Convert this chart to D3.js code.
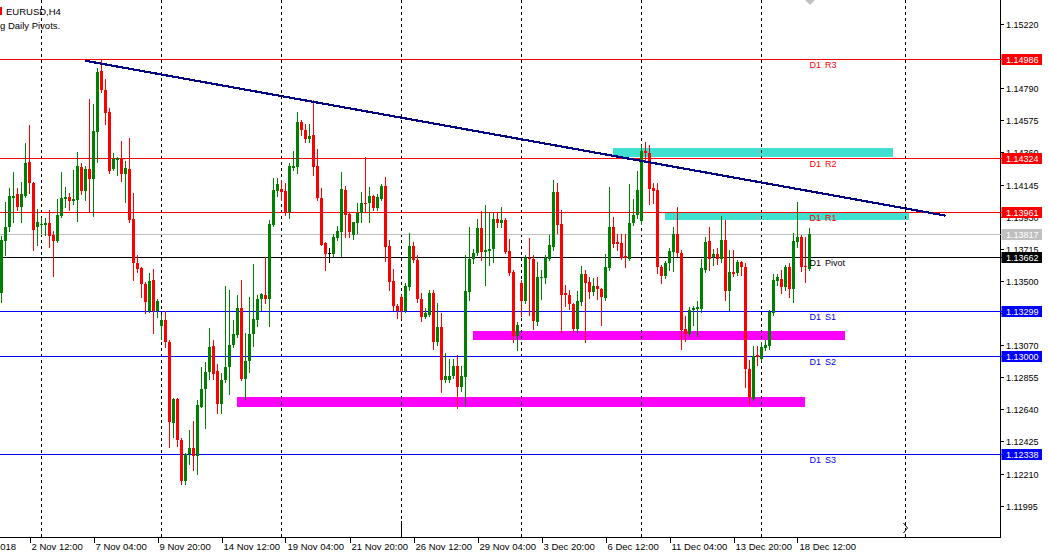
<!DOCTYPE html>
<html><head><meta charset="utf-8">
<script src="https://cdn.jsdelivr.net/npm/d3@7"></script>
<style>
html,body{margin:0;padding:0;background:#fff;overflow:hidden}
svg{display:block;font-family:"Liberation Sans",Arial,sans-serif}
</style></head><body>
<svg id="c" width="1049" height="557"></svg>
<script>
// ---- data (EURUSD H4) ----
const opens = [1.13420,1.13766,1.13862,1.14056,1.14081,1.13996,1.14070,1.14296,1.14157,1.13862,
1.13874,1.13874,1.13887,1.13807,1.13766,1.13936,1.14048,1.14061,1.14034,1.14041,
1.14262,1.14103,1.14249,1.14184,1.14499,1.14905,1.14778,1.14631,1.14249,1.14311,
1.14324,1.14215,1.14249,1.13914,1.13617,1.13587,1.13478,1.13299,1.13505,1.13299,
1.13197,1.13237,1.13090,1.12549,1.12712,1.12433,1.12160,1.12339,1.12384,1.12331,
1.12656,1.12777,1.12891,1.13063,1.12895,1.12679,1.12835,1.12924,1.13070,1.13137,
1.13317,1.12842,1.12962,1.13143,1.13237,1.13382,1.13405,1.13378,1.13874,1.14101,
1.14115,1.14101,1.13959,1.14257,1.14260,1.14564,1.14510,1.14450,1.14477,1.14269,
1.14056,1.13751,1.13685,1.13679,1.13788,1.13829,1.14108,1.13947,1.13805,1.13889,
1.13956,1.14021,1.14019,1.14068,1.13989,1.14050,1.14135,1.13733,1.13498,1.13333,
1.13389,1.13297,1.13460,1.13733,1.13639,1.13378,1.13259,1.13271,1.13416,1.13088,
1.13190,1.12837,1.12837,1.12864,1.12931,1.12790,1.12857,1.13427,1.13644,1.13684,
1.13855,1.13695,1.13701,1.13715,1.13916,1.13889,1.13907,1.13699,1.13561,1.13130,
1.13485,1.13366,1.13654,1.13648,1.13224,1.13518,1.13520,1.13648,1.13726,1.14095,
1.13880,1.13418,1.13407,1.13346,1.13175,1.13360,1.13547,1.13492,1.13425,1.13465,
1.13447,1.13386,1.13587,1.13860,1.13762,1.13751,1.13666,1.13648,1.13885,1.13941,
1.13900,1.14369,1.14354,1.14123,1.14108,1.13590,1.13534,1.13617,1.13695,1.13813,
1.13684,1.13177,1.13145,1.13302,1.13311,1.13311,1.13572,1.13766,1.13661,1.13677,
1.13650,1.13773,1.13433,1.13557,1.13554,1.13628,1.13594,1.12911,1.12712,1.13001,
1.12980,1.13054,1.13063,1.13286,1.13500,1.13512,1.13460,1.13594,1.13447,1.13762,
1.13791,1.13597,1.13579];
const highs = [1.13800,1.14030,1.14119,1.14231,1.14119,1.14164,1.14425,1.14544,1.14162,1.13981,
1.13920,1.13920,1.13974,1.13833,1.14048,1.14229,1.14128,1.14086,1.14242,1.14363,
1.14287,1.14271,1.14718,1.14684,1.14925,1.14979,1.14852,1.14657,1.14356,1.14329,
1.14436,1.14304,1.14456,1.14086,1.13673,1.13594,1.13494,1.13552,1.13583,1.13382,
1.13271,1.13299,1.13103,1.12714,1.12714,1.12446,1.12346,1.12505,1.12562,1.12701,
1.12924,1.12958,1.13185,1.13103,1.12947,1.12882,1.13465,1.13438,1.13237,1.13405,
1.13505,1.13150,1.13391,1.13612,1.13405,1.13420,1.13661,1.13907,1.14188,1.14188,
1.14175,1.14153,1.14287,1.14371,1.14631,1.14577,1.14550,1.14552,1.14711,1.14383,
1.14123,1.13760,1.13717,1.13813,1.13867,1.14229,1.14135,1.13956,1.13894,1.14019,
1.14097,1.14327,1.14126,1.14074,1.14081,1.14148,1.14195,1.13773,1.13577,1.13344,
1.13405,1.13487,1.13820,1.13760,1.13673,1.13416,1.13317,1.13438,1.13438,1.13353,
1.13286,1.13018,1.12976,1.12974,1.13001,1.12929,1.13673,1.13860,1.13713,1.13914,
1.13965,1.14008,1.13963,1.13954,1.13963,1.13994,1.13922,1.13782,1.13572,1.13224,
1.13505,1.13673,1.13788,1.13673,1.13628,1.13572,1.13673,1.13807,1.14175,1.14153,
1.13972,1.13472,1.13438,1.13351,1.13431,1.13601,1.13572,1.13527,1.13518,1.13527,
1.13452,1.13677,1.14130,1.13929,1.13815,1.13815,1.13815,1.14146,1.14046,1.14235,
1.14412,1.14432,1.14410,1.14153,1.14157,1.13606,1.13632,1.13717,1.13862,1.13996,
1.13706,1.13264,1.13326,1.13331,1.13364,1.13644,1.13791,1.13862,1.13711,1.13717,
1.13934,1.13907,1.13706,1.13706,1.13639,1.13632,1.13617,1.12969,1.13063,1.13063,
1.13092,1.13103,1.13304,1.13545,1.13545,1.13572,1.13606,1.13619,1.13822,1.14030,
1.13807,1.13795,1.13851];
const lows = [1.13360,1.13673,1.13835,1.13896,1.13974,1.13896,1.14063,1.14090,1.13706,1.13740,
1.13820,1.13807,1.13728,1.13534,1.13760,1.13929,1.13996,1.13974,1.14014,1.13900,
1.14081,1.14041,1.13959,1.13936,1.14298,1.14765,1.14548,1.14222,1.14242,1.14211,
1.14166,1.14028,1.13894,1.13505,1.13561,1.13393,1.13282,1.13291,1.13148,1.13259,
1.13114,1.13058,1.12388,1.12455,1.12393,1.12143,1.12143,1.12277,1.12237,1.12210,
1.12654,1.12518,1.12846,1.12846,1.12616,1.12616,1.12824,1.12746,1.13056,1.13123,
1.12835,1.12708,1.12889,1.13063,1.13197,1.13304,1.13349,1.13197,1.13867,1.14068,
1.14041,1.13943,1.13922,1.14242,1.14224,1.14477,1.14430,1.14430,1.14209,1.14041,
1.13740,1.13572,1.13628,1.13666,1.13773,1.13666,1.13791,1.13791,1.13778,1.13822,
1.13896,1.13961,1.13896,1.13974,1.13974,1.14041,1.13632,1.13438,1.13304,1.13255,
1.13250,1.13291,1.13438,1.13626,1.13358,1.13232,1.13250,1.13264,1.13041,1.13070,
1.12757,1.12822,1.12822,1.12848,1.12652,1.12763,1.12668,1.13371,1.13617,1.13673,
1.13639,1.13472,1.13606,1.13626,1.13860,1.13862,1.13688,1.13539,1.13092,1.13036,
1.13266,1.13351,1.13271,1.13179,1.13204,1.13378,1.13487,1.13639,1.13706,1.13818,
1.13159,1.13333,1.13311,1.13159,1.13159,1.13338,1.13092,1.13384,1.13405,1.13376,
1.13204,1.13371,1.13572,1.13726,1.13706,1.13650,1.13594,1.13639,1.13874,1.13920,
1.13878,1.14309,1.14014,1.14019,1.13552,1.13487,1.13518,1.13572,1.13567,1.13666,
1.13041,1.13098,1.13132,1.13204,1.13132,1.13291,1.13559,1.13572,1.13606,1.13612,
1.13628,1.13371,1.13304,1.13532,1.13539,1.13539,1.12790,1.12679,1.12701,1.12936,
1.12969,1.13036,1.13043,1.13271,1.13472,1.13420,1.13438,1.13393,1.13360,1.13728,
1.13567,1.13494,1.13572];
const closes = [1.13773,1.13862,1.14070,1.14070,1.13996,1.14081,1.14287,1.14157,1.13840,1.13896,
1.13883,1.13889,1.13800,1.13766,1.13941,1.14054,1.14061,1.14034,1.14048,1.14269,
1.14101,1.14249,1.14184,1.14503,1.14899,1.14778,1.14626,1.14235,1.14316,1.14324,
1.14215,1.14255,1.13907,1.13617,1.13577,1.13476,1.13360,1.13498,1.13299,1.13366,
1.13237,1.13090,1.12554,1.12712,1.12433,1.12160,1.12344,1.12384,1.12331,1.12668,
1.12779,1.12891,1.13058,1.12880,1.12679,1.12835,1.12924,1.13070,1.13143,1.13317,
1.12842,1.12962,1.13143,1.13244,1.13382,1.13409,1.13382,1.13878,1.14108,1.14148,
1.14097,1.13956,1.14269,1.14269,1.14564,1.14510,1.14450,1.14470,1.14264,1.14056,
1.13742,1.13679,1.13685,1.13795,1.13833,1.14117,1.13943,1.13829,1.13894,1.13956,
1.14023,1.14017,1.14068,1.13989,1.14063,1.14135,1.13728,1.13494,1.13333,1.13297,
1.13297,1.13465,1.13733,1.13639,1.13378,1.13259,1.13286,1.13416,1.13088,1.13190,
1.12837,1.12864,1.12864,1.12931,1.12790,1.12862,1.13431,1.13646,1.13684,1.13855,
1.13695,1.13706,1.13715,1.13916,1.13889,1.13907,1.13695,1.13550,1.13130,1.13204,
1.13364,1.13654,1.13644,1.13230,1.13525,1.13525,1.13652,1.13740,1.14095,1.13874,
1.13407,1.13407,1.13346,1.13175,1.13364,1.13547,1.13487,1.13425,1.13465,1.13447,
1.13393,1.13592,1.13860,1.13748,1.13748,1.13654,1.13652,1.13887,1.13941,1.14108,
1.14369,1.14354,1.14117,1.14103,1.13590,1.13534,1.13617,1.13699,1.13813,1.13684,
1.13170,1.13145,1.13302,1.13319,1.13324,1.13587,1.13762,1.13650,1.13679,1.13650,
1.13773,1.13433,1.13557,1.13545,1.13624,1.13594,1.12911,1.12716,1.12996,1.12989,
1.13058,1.13070,1.13293,1.13505,1.13527,1.13460,1.13594,1.13447,1.13766,1.13791,
1.13594,1.13592,1.13817];

const timeLabels = ["1 Nov 2018","2 Nov 12:00","7 Nov 04:00","9 Nov 20:00","14 Nov 12:00","19 Nov 04:00","21 Nov 20:00","26 Nov 12:00","29 Nov 04:00","3 Dec 20:00","6 Dec 12:00","11 Dec 04:00","13 Dec 20:00","18 Dec 12:00"];
const timeLabelBars = [-9,7,23,39,55,71,87,103,119,135,151,167,183,199];
const priceTicks = [1.15220,1.14790,1.14575,1.14360,1.14145,1.13930,1.13715,1.13500,1.13285,1.13070,1.12855,1.12640,1.12425,1.12210,1.11995];
const pivotNames = ["D1 R3","D1 R2","D1 R1","D1 Pivot","D1 S1","D1 S2","D1 S3"];
const pivotValues = [1.14986,1.14324,1.13961,1.13662,1.13299,1.13000,1.12338];
const pivotColors = ["#ff0000","#ff0000","#ff0000","#000000","#0000ff","#0000ff","#0000ff"];
const currentPrice = 1.13817;
const separatorBars = [10,40,70,100,130,160,190,226];
const trendBars = [20.9, 236];
const trendPrices = [1.14974, 1.13937];
// zones: [startBar, endBar, highPrice, lowPrice]
const zoneStart = [152.9, 165.9, 117.9, 58.9];
const zoneEnd   = [222.9, 226.9, 210.9, 200.9];
const zoneHigh  = [1.14389, 1.13954, 1.13163, 1.12721];
const zoneLow   = [1.14329, 1.13907, 1.13103, 1.12654];
const zoneColors = ["#40e0d0","#40e0d0","#ff00ff","#ff00ff"];

// ---- drawing ----
const svg = d3.select("#c");
const W = 1049, H = 557, plotR = 1000, plotB = 537;
const xs = d3.scaleLinear().domain([0, 202]).range([1.5, 809.5]);
const ys = d3.scaleLinear().domain([1.15220, 1.11995]).range([24, 505.7]);
const bars = d3.range(opens.length).map(i => ({i, o:opens[i], h:highs[i], l:lows[i], c:closes[i]}));

svg.append("rect").attr("width", W).attr("height", H).attr("fill", "#fff");
const plot = svg.append("g");
plot.append("clipPath").attr("id","pc").append("rect").attr("x",0).attr("y",0).attr("width",plotR).attr("height",plotB);
const pg = plot.append("g").attr("clip-path","url(#pc)");

// zones (background)
pg.selectAll("rect.zone").data(zoneStart).join("rect")
  .attr("x", (d,i) => Math.round(xs(d)))
  .attr("width", (d,i) => Math.round(xs(zoneEnd[i]) - xs(d)))
  .attr("y", (d,i) => Math.round(ys(zoneHigh[i])))
  .attr("height", (d,i) => Math.round(ys(zoneLow[i]) - ys(zoneHigh[i])))
  .attr("fill", (d,i) => zoneColors[i]);

// separators
pg.selectAll("line.sep").data(separatorBars).join("line")
  .attr("x1", d => xs(d)).attr("x2", d => xs(d)).attr("y1", 0).attr("y2", plotB)
  .attr("stroke", "#000").attr("stroke-width", 1).attr("stroke-dasharray", "3,3")
  .attr("shape-rendering","crispEdges");
pg.append("line").attr("x1", xs(100)).attr("x2", xs(100)).attr("y1", 521).attr("y2", plotB)
  .attr("stroke","#000").attr("shape-rendering","crispEdges");

// pivot lines
pg.selectAll("line.piv").data(pivotValues).join("line")
  .attr("x1", 0).attr("x2", plotR)
  .attr("y1", d => Math.round(ys(d)) + 0.5).attr("y2", d => Math.round(ys(d)) + 0.5)
  .attr("stroke", (d,i) => pivotColors[i]).attr("shape-rendering","crispEdges");
pg.append("line").attr("x1",0).attr("x2",plotR)
  .attr("y1", Math.round(ys(currentPrice))+0.5).attr("y2", Math.round(ys(currentPrice))+0.5)
  .attr("stroke","#c0c0c0").attr("shape-rendering","crispEdges");

// candles
const col = b => b.c > b.o ? "#008000" : (b.c < b.o ? "#ff0000" : "#000000");
const cg = pg.append("g").attr("shape-rendering","crispEdges");
cg.selectAll("rect.wick").data(bars).join("rect")
  .attr("x", b => xs(b.i) - 0.5).attr("width", 1)
  .attr("y", b => Math.round(ys(b.h)))
  .attr("height", b => Math.max(1, Math.round(ys(b.l)) - Math.round(ys(b.h)) + 1))
  .attr("fill", col);
cg.selectAll("rect.body").data(bars).join("rect")
  .attr("x", b => xs(b.i) - 1.5).attr("width", 3)
  .attr("y", b => Math.round(ys(Math.max(b.o, b.c))))
  .attr("height", b => Math.max(1, Math.round(ys(Math.min(b.o, b.c))) - Math.round(ys(Math.max(b.o, b.c)))))
  .attr("fill", col);

// trend line
pg.append("line")
  .attr("x1", xs(trendBars[0])).attr("y1", ys(trendPrices[0]))
  .attr("x2", xs(trendBars[1])).attr("y2", ys(trendPrices[1]))
  .attr("stroke", "#000080").attr("stroke-width", 2.2).attr("shape-rendering","crispEdges");

// pivot labels
pg.selectAll("text.pl").data(pivotNames).join("text")
  .attr("x", xs(202)).attr("y", (d,i) => Math.round(ys(pivotValues[i])) + 8.5)
  .attr("font-size", "9px").attr("fill", (d,i) => pivotColors[i])
  .style("word-spacing","1.5px").text(d => d);

// shift markers
svg.append("path").attr("d","M805,0 L815,0 L810,5 Z").attr("fill","#c0c0c0");
svg.append("path").attr("d","M903.5,523 L907.5,528 L903.5,533").attr("fill","none").attr("stroke","#000");

// axes frame
svg.append("line").attr("x1", plotR + 0.5).attr("x2", plotR + 0.5).attr("y1", 0).attr("y2", plotB + 0.5)
  .attr("stroke","#000").attr("shape-rendering","crispEdges");
svg.append("line").attr("x1", 0).attr("x2", plotR + 1).attr("y1", plotB + 0.5).attr("y2", plotB + 0.5)
  .attr("stroke","#000").attr("shape-rendering","crispEdges");

// price axis
const pa = svg.append("g");
pa.selectAll("line").data(priceTicks).join("line")
  .attr("x1", plotR).attr("x2", plotR + 4)
  .attr("y1", d => Math.round(ys(d)) + 0.5).attr("y2", d => Math.round(ys(d)) + 0.5)
  .attr("stroke","#000").attr("shape-rendering","crispEdges");
pa.selectAll("text").data(priceTicks).join("text")
  .attr("x", plotR + 6).attr("y", d => Math.round(ys(d)) + 3.5)
  .attr("font-size","9px").attr("fill","#000").text(d => d.toFixed(5));

// boxes
const boxVals = pivotValues.concat([currentPrice]);
const boxCols = pivotColors.concat(["#c0c0c0"]);
const bx = svg.append("g");
bx.selectAll("rect").data(boxVals).join("rect")
  .attr("x", plotR + 1.5).attr("width", 40.5)
  .attr("y", d => Math.round(ys(d)) - 5).attr("height", 11)
  .attr("fill", (d,i) => boxCols[i]);
bx.selectAll("line").data(boxVals).join("line")
  .attr("x1", plotR).attr("x2", plotR + 2)
  .attr("y1", d => Math.round(ys(d)) + 0.5).attr("y2", d => Math.round(ys(d)) + 0.5)
  .attr("stroke", (d,i) => boxCols[i]).attr("shape-rendering","crispEdges");
bx.selectAll("text").data(boxVals).join("text")
  .attr("x", plotR + 6).attr("y", d => Math.round(ys(d)) + 4)
  .attr("font-size","9px").attr("fill","#fff").text(d => d.toFixed(5));

// time axis
const ta = svg.append("g");
ta.selectAll("line").data(timeLabelBars).join("line")
  .attr("x1", d => Math.round(xs(d)) + 0.5).attr("x2", d => Math.round(xs(d)) + 0.5)
  .attr("y1", plotB).attr("y2", plotB + 6)
  .attr("stroke","#000").attr("shape-rendering","crispEdges");
ta.selectAll("text").data(timeLabels).join("text")
  .attr("x", (d,i) => xs(timeLabelBars[i]) + 2).attr("y", 550)
  .attr("font-size","9.5px").attr("fill","#000").text(d => d);

// title
svg.append("rect").attr("x",0).attr("y",7).attr("width",2).attr("height",8).attr("fill","#ff0000");
svg.append("text").attr("x",6).attr("y",15).attr("font-size","9.5px").text("EURUSD,H4");
svg.append("text").attr("x",0).attr("y",29).attr("font-size","9.5px").text("g Daily Pivots.");
</script>
</body></html>
